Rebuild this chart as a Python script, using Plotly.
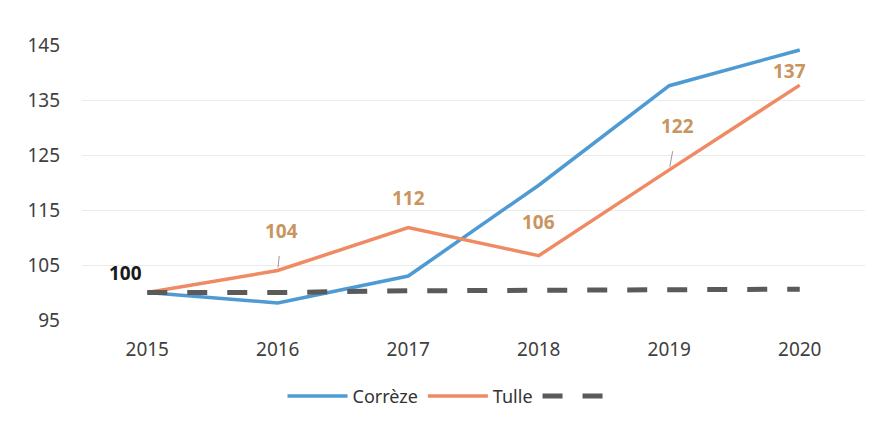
import plotly.graph_objects as go

years = [2015, 2016, 2017, 2018, 2019, 2020]
correze = [100, 98.1, 103, 119.5, 137.6, 144.1]
tulle = [100, 104, 111.8, 106.7, 122.3, 137.7]
baseline = [100, 100, 100.3, 100.4, 100.5, 100.6]
tulle_labels = ["100", "104", "112", "106", "122", "137"]
y_ticks = [95, 105, 115, 125, 135, 145]

FONT = "Noto Sans"
BLUE = "#4E9BD3"
ORANGE = "#EF8A62"
DASH = "#5A5A5A"
LABEL = "#C9955F"

fig = go.Figure()
fig.add_trace(go.Scatter(x=years, y=correze, mode="lines", name="Corrèze",
                         line=dict(color=BLUE, width=3.5)))
fig.add_trace(go.Scatter(x=years, y=tulle, mode="lines", name="Tulle",
                         line=dict(color=ORANGE, width=3.5)))
fig.add_trace(go.Scatter(x=years, y=baseline, mode="lines", name=" ",
                         line=dict(color=DASH, width=5, dash="20px,20px")))

# label offsets (pixels) for each Tulle point
offsets = [(-22, -20), (4, -40), (0, -30), (0, -34), (8, -44), (-10, -14)]
leaders = [False, True, False, False, True, False]
for i, (yr, val, txt) in enumerate(zip(years, tulle, tulle_labels)):
    ax, ay = offsets[i]
    fig.add_annotation(
        x=yr, y=val, text=f"<b>{txt}</b>",
        showarrow=leaders[i], arrowhead=0, arrowwidth=1, arrowcolor="#9A9A9A",
        ax=ax, ay=ay, standoff=3, startstandoff=11,
        xshift=0 if leaders[i] else ax, yshift=0 if leaders[i] else -ay,
        font=dict(family=FONT, size=19, color="#1A1A1A" if i == 0 else LABEL),
    )

# page body adds ~8px offset, margins compensate
fig.update_layout(
    width=880, height=430,
    margin=dict(l=74, r=23, t=37, b=118),
    paper_bgcolor="white", plot_bgcolor="white",
    font=dict(family=FONT, size=19, color="#404040"),
    showlegend=True,
    legend=dict(orientation="h", x=0.47, xanchor="center", y=-0.21, yanchor="top",
                font=dict(size=18, color="#333333"), itemwidth=60),
    xaxis=dict(range=[2014.5, 2020.5], tickvals=years, showgrid=False,
               zeroline=False, showline=False, ticklabelstandoff=16,
               automargin=False),
    yaxis=dict(range=[95, 145], tickvals=y_ticks, showgrid=True,
               gridcolor="#EBEBEB", gridwidth=1, zeroline=False, showline=False,
               ticklabelstandoff=21, automargin=False),
)

fig.write_html("out.html")
